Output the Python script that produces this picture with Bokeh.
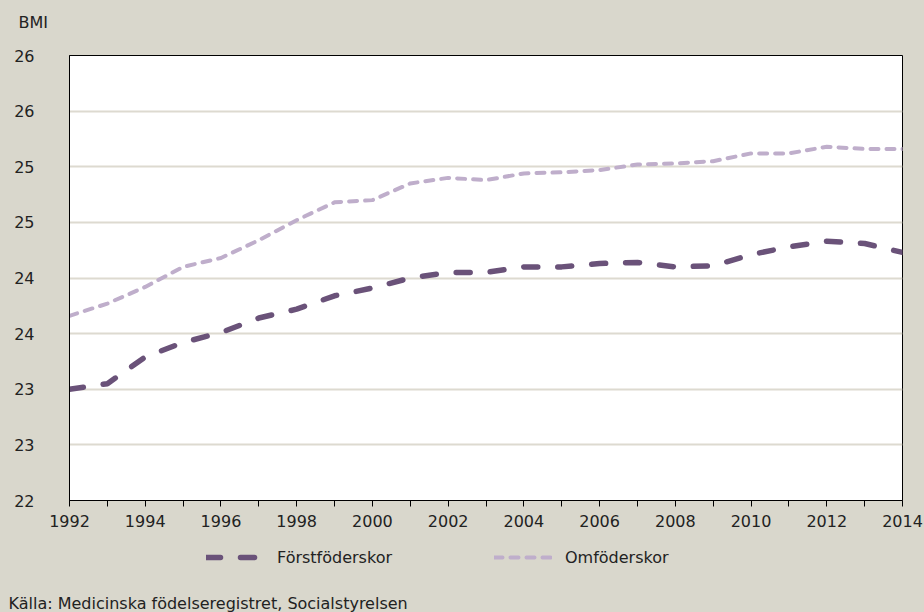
from bokeh.plotting import figure
from bokeh.layouts import column
from bokeh.models import (FixedTicker, NumeralTickFormatter, Legend, LegendItem, Title)
from bokeh.embed import file_html
from bokeh.resources import INLINE

years = list(range(1992, 2015))
forst = [23.00, 23.05, 23.29, 23.42, 23.51, 23.64, 23.72, 23.84, 23.91, 24.00, 24.05, 24.05,
         24.10, 24.10, 24.13, 24.14, 24.10, 24.11, 24.21, 24.28, 24.33, 24.31, 24.23]
omf = [23.66, 23.77, 23.92, 24.10, 24.18, 24.34, 24.52, 24.68, 24.70, 24.85, 24.90, 24.88,
       24.94, 24.95, 24.97, 25.02, 25.03, 25.05, 25.12, 25.12, 25.18, 25.16, 25.16]
y_ticks = [22, 22.5, 23, 23.5, 24, 24.5, 25, 25.5, 26]
x_major = list(range(1992, 2015, 2))
x_minor = list(range(1993, 2014, 2))
series_names = ["Förstföderskor", "Omföderskor"]
y_title = "BMI"
source_text = "Källa: Medicinska födelseregistret, Socialstyrelsen"

BG = "#d9d7cc"
DARK = "#6a5279"
LIGHT = "#bfaecb"
TXT = "#222222"
FONT = "DejaVu Sans"
DARK_STYLE = dict(line_color=DARK, line_width=5.5, line_dash="14 20", line_cap="round")
LIGHT_STYLE = dict(line_color=LIGHT, line_width=4, line_dash="8 8", line_cap="round")


def strip_panel(height, top=0, bottom=0):
    f = figure(width=924, height=height, output_backend="svg", toolbar_location=None,
               x_range=(0, 1), y_range=(0, 1),
               min_border_left=69, min_border_right=22,
               min_border_top=top, min_border_bottom=bottom)
    f.axis.visible = False
    f.grid.visible = False
    f.outline_line_color = None
    f.background_fill_color = BG
    f.border_fill_color = BG
    return f


# Top strip with the unit text
t = strip_panel(45)
t.add_layout(Title(text=y_title, align="left", offset=-51, standoff=21,
                   text_font=FONT, text_font_size="16px", text_color=TXT,
                   text_font_style="normal"), "above")

# Main chart
p = figure(width=924, height=490, output_backend="svg", toolbar_location=None,
           x_range=(1992, 2014), y_range=(22, 26),
           min_border_left=69, min_border_right=22, min_border_top=10, min_border_bottom=35)
p.background_fill_color = "white"
p.border_fill_color = BG
p.outline_line_color = "black"
p.outline_line_width = 1

p.xgrid.visible = False
p.ygrid.grid_line_color = "#dddad0"
p.ygrid.grid_line_width = 2
p.ygrid.ticker = FixedTicker(ticks=y_ticks)

p.yaxis.ticker = FixedTicker(ticks=y_ticks)
p.yaxis.formatter = NumeralTickFormatter(format="0")
p.yaxis.major_tick_line_color = None
p.yaxis.minor_tick_line_color = None
p.yaxis.major_label_standoff = 29
p.yaxis.axis_line_color = "black"

p.xaxis.ticker = FixedTicker(ticks=x_major, minor_ticks=x_minor)
p.xaxis.major_tick_in = 0
p.xaxis.major_tick_out = 6
p.xaxis.minor_tick_in = 0
p.xaxis.minor_tick_out = 6
p.xaxis.major_tick_line_color = "black"
p.xaxis.minor_tick_line_color = "black"
p.xaxis.axis_line_color = "black"
p.xaxis.major_label_standoff = 8

for ax in (p.xaxis, p.yaxis):
    ax.major_label_text_font = FONT
    ax.major_label_text_font_size = "16px"
    ax.major_label_text_color = TXT

p.line(years, forst, **DARK_STYLE)
p.line(years, omf, **LIGHT_STYLE)

# Legend + source strip (frame aligned with main plot's frame)
q = strip_panel(77)
# legend keys: series lines lie outside this strip's ranges, only their keys show
k1 = q.line(years, forst, **DARK_STYLE)
k2 = q.line(years, omf, **LIGHT_STYLE)
legend = Legend(items=[LegendItem(label=series_names[0], renderers=[k1]),
                       LegendItem(label=series_names[1], renderers=[k2])],
                orientation="horizontal", location=(137, 24),
                background_fill_alpha=0, border_line_color=None,
                glyph_width=58, label_standoff=13, spacing=102, padding=0, margin=0,
                label_text_font=FONT, label_text_font_size="16px", label_text_color=TXT)
q.add_layout(legend, "center")
q.add_layout(Title(text=source_text, align="left", offset=-61, standoff=0,
                   text_font=FONT, text_font_size="16px", text_color=TXT,
                   text_font_style="normal"), "below")

layout = column(t, p, q, spacing=0)
html = file_html(layout, INLINE)
html = html.replace("<head>", "<head><style>body{background:%s;}</style>" % BG, 1)
open("out.html", "w").write(html)
